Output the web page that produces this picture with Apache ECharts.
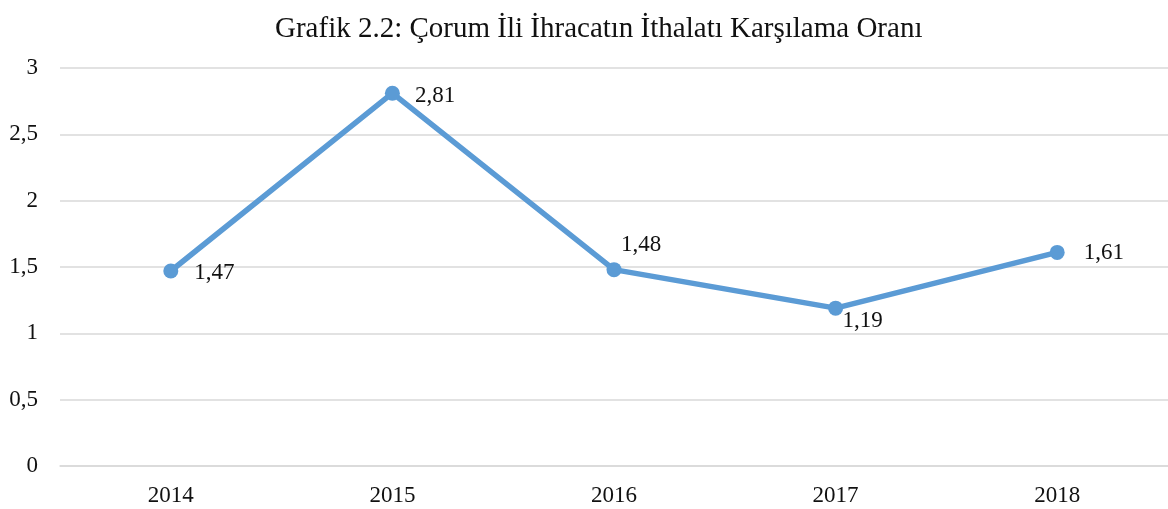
<!DOCTYPE html>
<html>
<head>
<meta charset="utf-8">
<script src="https://cdn.jsdelivr.net/npm/echarts@6/dist/echarts.min.js"></script>
<style>
html,body{margin:0;padding:0;background:#fff;}
#chart1{width:1168px;height:509px;}
</style>
</head>
<body>
<div id="chart1"></div>
<script>
// veriler
var years = ['2014', '2015', '2016', '2017', '2018'];
var oran = [1.47, 2.81, 1.48, 1.19, 1.61];
var labelYerleri = [
    {position: 'right', offset: [11, 2]},
    {position: 'right', offset: [10, 3]},
    {position: 'top', offset: [27, -1]},
    {position: 'bottom', offset: [27, -11]},
    {position: 'right', offset: [14, 1]}
];

var fontAile = '"Liberation Serif", "Times New Roman", serif';

var _chart1 = echarts.init(document.getElementById('chart1'));

var seriesData = [];
for (var i = 0; i < oran.length; i++) {
    seriesData.push({
        value: oran[i],
        label: labelYerleri[i]
    });
}

var option = {
    animation: false,
    title: {
        text: 'Grafik 2.2: Çorum İli İhracatın İthalatı Karşılama Oranı',
        left: 270,
        top: 10,
        textStyle: {
            fontFamily: fontAile,
            fontWeight: 'normal',
            fontSize: 29,
            color: '#111'
        }
    },
    grid: {
        left: 60,
        top: 68,
        right: 0,
        height: 398,
        containLabel: false
    },
    xAxis: {
        type: 'category',
        data: years,
        boundaryGap: true,
        axisLine: {show: true, lineStyle: {color: '#d9d9d9', width: 1.5}},
        axisTick: {show: false},
        axisLabel: {
            fontFamily: fontAile,
            fontSize: 23,
            color: '#111',
            margin: 18
        }
    },
    yAxis: {
        type: 'value',
        min: 0,
        max: 3,
        interval: 0.5,
        axisLine: {show: false},
        axisTick: {show: false},
        splitLine: {lineStyle: {color: '#d9d9d9', width: 1.5}},
        axisLabel: {
            fontFamily: fontAile,
            fontSize: 23,
            color: '#111',
            margin: 22,
            formatter: function (v) { return String(v).replace('.', ','); }
        }
    },
    series: [
        {
            name: 'Oran',
            type: 'line',
            data: seriesData,
            symbol: 'circle',
            symbolSize: 15,
            lineStyle: {color: '#5b9bd5', width: 5.5},
            itemStyle: {color: '#5b9bd5'},
            label: {
                show: true,
                fontFamily: fontAile,
                fontSize: 23,
                color: '#111',
                formatter: function (p) { return String(p.value).replace('.', ','); }
            }
        }
    ]
};

_chart1.setOption(option);
</script>
</body>
</html>
